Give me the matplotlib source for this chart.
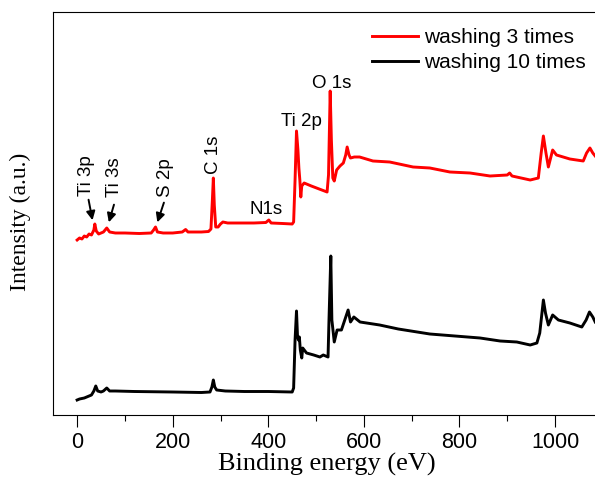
import matplotlib
matplotlib.use("Agg")
import matplotlib.pyplot as plt

# XPS survey data (binding energy in eV, intensity in a.u.)
e_3 = [0, 5, 10, 15, 20, 25, 30, 35, 37, 40, 45, 50, 55, 62, 68, 80, 100, 130, 155, 160,
       164, 168, 180, 200, 220, 227, 232, 260, 275, 280, 283, 285, 287, 290, 295, 300, 305,
       315, 340, 370, 395, 401, 406, 430, 450, 453, 456, 459, 462, 464, 466, 468, 470, 475,
       480, 490, 501, 512, 523, 526, 529.5, 532, 535, 538, 543, 550, 557, 562, 565, 569,
       572, 580, 591, 619, 654, 703, 738, 780, 822, 864, 900, 905, 910, 948, 965, 971,
       975.6, 981, 986, 995, 1003, 1031, 1059, 1066, 1073, 1079, 1084]
i_3 = [175, 177, 176, 179, 178, 181, 180, 185, 191, 184, 181, 182, 183, 187, 183, 182, 182,
       181.5, 182, 185, 188, 183, 182, 182, 183, 185.5, 183, 183, 183.5, 186, 215, 237, 210,
       188, 188, 191, 193, 192, 192, 192, 192.5, 195, 192, 191.5, 191, 193, 235, 284, 265,
       247, 235, 218, 229, 232, 231, 229, 227, 225, 223, 240, 324, 275, 237, 234, 245, 249,
       252, 260, 268, 260, 257, 258, 258, 254, 253, 248, 247, 243, 242, 239, 240, 242, 239,
       235, 237, 262, 279, 262, 248, 265, 260, 256, 254, 262, 267, 262, 259]

e_10 = [0, 5, 10, 15, 20, 25, 30, 35, 39, 43, 50, 55, 62, 68, 80, 120, 200, 260, 278, 282,
        285, 288, 292, 310, 350, 400, 450, 453, 456, 459, 461, 463, 465, 467, 470, 472, 480,
        495, 508, 515, 525, 527, 530.8, 533, 536, 538, 544, 553, 560, 567, 572, 579, 592,
        633, 672, 738, 843, 885, 920, 948, 962, 968, 975.6, 980, 986, 995, 1007, 1031, 1056,
        1065, 1072, 1079, 1084]
i_10 = [15, 16, 16.5, 17, 18, 19, 20, 24, 29, 24, 23, 24, 27, 24, 24, 23.5, 23, 22.5, 23,
        28, 35, 28, 25, 24, 23.5, 23.5, 23, 27, 75, 104, 80, 75, 78, 65, 57, 67, 62, 60, 58,
        60, 58, 95, 159, 95, 82, 73, 85, 85, 95, 105, 93, 98, 93, 90, 86, 81, 77, 74, 73, 70,
        72, 82, 115, 102, 90, 100, 95, 92, 88, 95, 103, 98, 93]

# peak labels: (text, x, y, rotation)
peak_labels = [("C 1s", 286, 260, 90), ("N1s", 396, 206, 0),
               ("Ti 2p", 469.6, 293, 0), ("O 1s", 532.5, 332, 0)]
# labels with arrows: (text, text x, text y, arrow tail, arrow head)
arrow_labels = [("Ti 3p", 19.5, 239, (22.8, 218), (33.3, 192)),
                ("Ti 3s", 78.7, 237.5, (78.7, 213), (64.7, 190)),
                ("S 2p", 185.5, 237.5, (183.4, 215), (166, 190))]

fig = plt.figure(figsize=(5.95, 4.88), dpi=100)
ax = fig.add_axes([53 / 595, 73 / 488, 1 - 53 / 595, 403 / 488])

ax.plot(e_3, i_3, color="#ff0000", lw=2.1, label="washing 3 times")
ax.plot(e_10, i_10, color="black", lw=2.1, label="washing 10 times")

for txt, x, y, rot in peak_labels:
    ax.text(x, y, txt, rotation=rot, ha="center", va="center",
            fontsize=13.5, family="Liberation Sans")

for txt, x, y, tail, head in arrow_labels:
    ax.text(x, y, txt, rotation=90, ha="center", va="center",
            fontsize=13.5, family="Liberation Sans")
    ax.annotate("", xy=head, xytext=tail,
                arrowprops=dict(arrowstyle="-|>", color="black", lw=1.4,
                                mutation_scale=13))

ax.set_xlim(-50.5, 1083.6)
ax.set_ylim(0, 403)
ax.set_xticks(range(0, 1001, 200))
ax.set_xticks(range(100, 1001, 200), minor=True)
ax.tick_params(axis="x", which="major", direction="out", length=8.6, width=0.8,
               labelsize=15.5, pad=4)
ax.tick_params(axis="x", which="minor", direction="out", length=4.3, width=0.8)
ax.tick_params(axis="y", left=False, labelleft=False)
for lbl in ax.get_xticklabels():
    lbl.set_family("Liberation Sans")
ax.spines["right"].set_visible(False)
for s in ["left", "top", "bottom"]:
    ax.spines[s].set_linewidth(0.8)

ax.set_xlabel("Binding energy (eV)", fontsize=19, family="Liberation Serif")
ax.set_ylabel("Intensity (a.u.)", fontsize=17, family="Liberation Serif")
ax.xaxis.set_label_coords(0.506, -0.095)
ax.yaxis.set_label_coords(-0.0406, 0.48)

ax.legend(loc="upper left", bbox_to_anchor=(372 / 595, 0.943), bbox_transform=fig.transFigure,
          frameon=False, borderpad=0, borderaxespad=0, handlelength=2.2,
          handletextpad=0.3, labelspacing=0.3,
          prop={"family": "Liberation Sans", "size": 15})

fig.savefig("out.png", dpi=100)
